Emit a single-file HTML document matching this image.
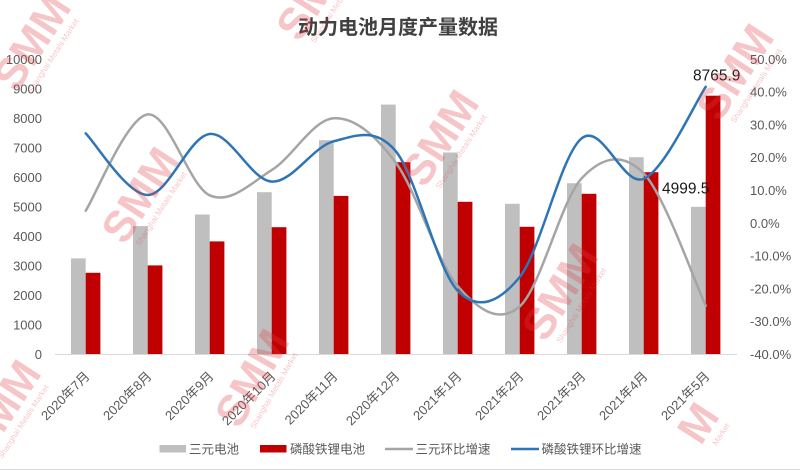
<!DOCTYPE html>
<html>
<head>
<meta charset="utf-8">
<style>
html,body{margin:0;padding:0;background:#fff;width:800px;height:470px;overflow:hidden;}
svg{display:block;overflow:hidden;}
text{font-family:"Liberation Sans","Noto Sans CJK SC",sans-serif;}
</style>
</head>
<body>
<svg width="800" height="470" viewBox="0 0 800 470" xmlns="http://www.w3.org/2000/svg">
<rect x="0" y="0" width="800" height="470" fill="#fff"/>
<!-- Title -->
<text x="398" y="34" text-anchor="middle" font-size="20" font-weight="bold" fill="#404040">动力电池月度产量数据</text>

<!-- Left axis labels -->
<g font-size="13" fill="#595959" text-anchor="end">
<text x="42" y="64">10000</text>
<text x="42" y="93.3">9000</text>
<text x="42" y="122.8">8000</text>
<text x="42" y="152.3">7000</text>
<text x="42" y="181.8">6000</text>
<text x="42" y="211.3">5000</text>
<text x="42" y="240.8">4000</text>
<text x="42" y="270.3">3000</text>
<text x="42" y="299.8">2000</text>
<text x="42" y="329.3">1000</text>
<text x="42" y="358.8">0</text>
</g>
<!-- Right axis labels -->
<g font-size="13" fill="#595959" text-anchor="start">
<text x="750" y="64">50.0%</text>
<text x="750" y="96.6">40.0%</text>
<text x="750" y="129.4">30.0%</text>
<text x="750" y="162.2">20.0%</text>
<text x="750" y="195">10.0%</text>
<text x="750" y="227.8">0.0%</text>
<text x="750" y="260.6">-10.0%</text>
<text x="750" y="293.4">-20.0%</text>
<text x="750" y="326.2">-30.0%</text>
<text x="750" y="359">-40.0%</text>
</g>

<!-- Bars -->
<g fill="#bfbfbf">
<rect x="71" y="258.4" width="14.7" height="95.9"/>
<rect x="133" y="226.1" width="14.7" height="128.2"/>
<rect x="195" y="214.5" width="14.7" height="139.8"/>
<rect x="257" y="192.2" width="14.7" height="162.1"/>
<rect x="319" y="140.2" width="14.7" height="214.1"/>
<rect x="381" y="104.6" width="14.7" height="249.7"/>
<rect x="443" y="152.5" width="14.7" height="201.8"/>
<rect x="505" y="203.8" width="14.7" height="150.5"/>
<rect x="567" y="183.2" width="14.7" height="171.1"/>
<rect x="629" y="157.2" width="14.7" height="197.1"/>
<rect x="691" y="206.8" width="14.7" height="147.5"/>
</g>
<g fill="#c00000">
<rect x="85.7" y="272.8" width="14.7" height="81.5"/>
<rect x="147.7" y="265.4" width="14.7" height="88.9"/>
<rect x="209.7" y="241.4" width="14.7" height="112.9"/>
<rect x="271.7" y="227.2" width="14.7" height="127.1"/>
<rect x="333.7" y="195.9" width="14.7" height="158.4"/>
<rect x="395.7" y="162.2" width="14.7" height="192.1"/>
<rect x="457.7" y="201.8" width="14.7" height="152.5"/>
<rect x="519.7" y="226.8" width="14.7" height="127.5"/>
<rect x="581.7" y="193.8" width="14.7" height="160.5"/>
<rect x="643.7" y="172.2" width="14.7" height="182.1"/>
<rect x="705.7" y="95.7" width="14.7" height="258.6"/>
</g>

<!-- Baseline -->
<line x1="55" y1="354.5" x2="737" y2="354.5" stroke="#d9d9d9" stroke-width="1"/>

<!-- Lines -->
<path d="M85.7,210.7 C96.03,194.65 127.03,116.97 147.7,114.4 C168.37,111.83 189.03,186.02 209.7,195.3 C230.37,204.58 251.03,182.93 271.7,170.1 C292.37,157.27 313.03,119.57 333.7,118.3 C354.37,117.03 375.03,134.53 395.7,162.5 C416.37,190.47 437.03,262.12 457.7,286.1 C478.37,310.08 499.03,324.37 519.7,306.4 C540.37,288.43 561.03,200.47 581.7,178.3 C602.37,156.13 623.03,152.15 643.7,173.4 C664.37,194.65 695.37,283.73 705.7,305.8" fill="none" stroke="#a5a5a5" stroke-width="2.5" stroke-linecap="round"/>
<path d="M85.7,133.4 C96.03,143.67 127.03,194.9 147.7,195.0 C168.37,195.1 189.03,136.23 209.7,134.0 C230.37,131.77 251.03,180.38 271.7,181.6 C292.37,182.82 313.03,146.38 333.7,141.3 C354.37,136.22 375.03,126.2 395.7,151.1 C416.37,176.0 437.03,269.72 457.7,290.7 C478.37,311.68 499.03,302.4 519.7,277.0 C540.37,251.6 561.03,154.65 581.7,138.3 C602.37,121.95 623.03,187.48 643.7,178.9 C664.37,170.32 695.37,102.15 705.7,86.8" fill="none" stroke="#2e75b6" stroke-width="2.5" stroke-linecap="round"/>

<!-- Data labels -->
<text x="693" y="80.5" font-size="15.5" fill="#1a1a1a">8765.9</text>
<text x="662" y="193.5" font-size="15.5" fill="#1a1a1a">4999.5</text>

<!-- X labels -->
<g font-size="13" fill="#595959" text-anchor="end">
<text transform="translate(90.5,377) rotate(-45)">2020年7月</text>
<text transform="translate(152.5,377) rotate(-45)">2020年8月</text>
<text transform="translate(214.5,377) rotate(-45)">2020年9月</text>
<text transform="translate(276.5,377) rotate(-45)">2020年10月</text>
<text transform="translate(338.5,377) rotate(-45)">2020年11月</text>
<text transform="translate(400.5,377) rotate(-45)">2020年12月</text>
<text transform="translate(462.5,377) rotate(-45)">2021年1月</text>
<text transform="translate(524.5,377) rotate(-45)">2021年2月</text>
<text transform="translate(586.5,377) rotate(-45)">2021年3月</text>
<text transform="translate(648.5,377) rotate(-45)">2021年4月</text>
<text transform="translate(710.5,377) rotate(-45)">2021年5月</text>
</g>

<!-- Legend -->
<rect x="159.5" y="445" width="26.5" height="7.5" fill="#bfbfbf"/>
<text x="189" y="453.5" font-size="12.5" fill="#595959">三元电池</text>
<rect x="260" y="445" width="26.5" height="7.5" fill="#c00000"/>
<text x="290" y="453.5" font-size="12.5" fill="#595959">磷酸铁锂电池</text>
<line x1="385" y1="449" x2="413" y2="449" stroke="#a5a5a5" stroke-width="2.5"/>
<text x="415.5" y="453.5" font-size="12.5" fill="#595959">三元环比增速</text>
<line x1="511" y1="449" x2="539" y2="449" stroke="#2e75b6" stroke-width="2.5"/>
<text x="541.5" y="453.5" font-size="12.5" fill="#595959">磷酸铁锂环比增速</text>

<!-- bottom border -->
<line x1="0" y1="469.5" x2="800" y2="469.5" stroke="#d9d9d9" stroke-width="1"/>

<!-- Watermarks -->
<g fill="#e03c46" opacity="0.3" font-weight="bold" text-anchor="middle">
<g transform="translate(32,42) rotate(-57)"><text y="15" font-size="44">SMM</text><text y="28" font-size="8" font-weight="normal">Shanghai Metals Market</text></g>
<g transform="translate(315,-8) rotate(-57)"><text y="15" font-size="44">SMM</text><text y="28" font-size="8" font-weight="normal">Shanghai Metals Market</text></g>
<g transform="translate(140,195) rotate(-57)"><text y="15" font-size="44">SMM</text><text y="28" font-size="8" font-weight="normal">Shanghai Metals Market</text></g>
<g transform="translate(440,138) rotate(-57)"><text y="15" font-size="44">SMM</text><text y="28" font-size="8" font-weight="normal">Shanghai Metals Market</text></g>
<g transform="translate(735,72) rotate(-57)"><text y="15" font-size="44">SMM</text><text y="28" font-size="8" font-weight="normal">Shanghai Metals Market</text></g>
<g transform="translate(252,378) rotate(-60)"><text y="15" font-size="44">SMM</text><text y="28" font-size="8" font-weight="normal">Shanghai Metals Market</text></g>
<g transform="translate(560,292) rotate(-58)"><text y="15" font-size="44">SMM</text><text y="28" font-size="8" font-weight="normal">Shanghai Metals Market</text></g>
<g transform="translate(682,448) rotate(-57)"><text x="48" y="15" font-size="44" text-anchor="end">M</text><text x="45" y="28" font-size="8" font-weight="normal" text-anchor="end">Market</text></g>
<g transform="translate(2,408) rotate(-57)"><text y="15" font-size="44">SMM</text><text y="28" font-size="8" font-weight="normal">Shanghai Metals Market</text></g>
</g>
</svg>
</body>
</html>
